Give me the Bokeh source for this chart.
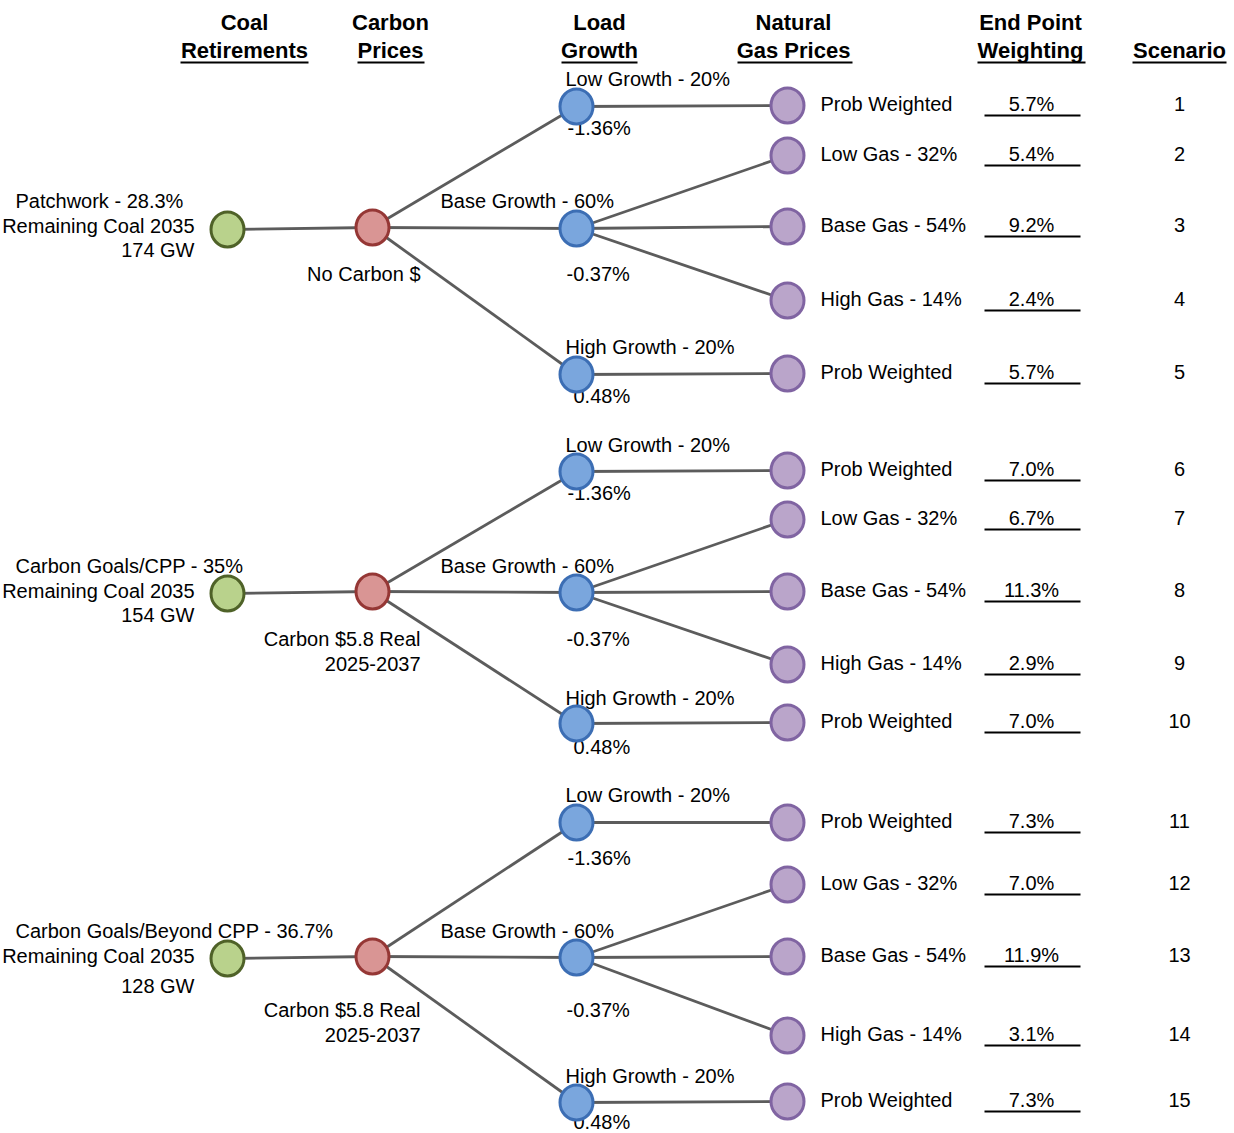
from bokeh.plotting import figure
from bokeh.models import Range1d, ColumnDataSource
from bokeh.core.properties import value
from bokeh.embed import file_html
from bokeh.resources import INLINE

# ---------------- data ----------------
headers_top = ["Coal", "Carbon", "Load", "Natural", "End Point", ""]
headers_bottom = ["Retirements", "Prices", "Growth", "Gas Prices", "Weighting", "Scenario"]

coal_names = ["Patchwork - 28.3%", "Carbon Goals/CPP - 35%", "Carbon Goals/Beyond CPP - 36.7%"]
coal_remaining = ["Remaining Coal 2035", "Remaining Coal 2035", "Remaining Coal 2035"]
coal_gw = ["174 GW", "154 GW", "128 GW"]
carbon_line1 = ["No Carbon $", "Carbon $5.8 Real", "Carbon $5.8 Real"]
carbon_line2 = ["", "2025-2037", "2025-2037"]
load_names = ["Low Growth - 20%", "Base Growth - 60%", "High Growth - 20%"]
load_rates = ["-1.36%", "-0.37%", "0.48%"]
gas_names = ["Prob Weighted", "Low Gas - 32%", "Base Gas - 54%", "High Gas - 14%", "Prob Weighted"]
weights = [5.7, 5.4, 9.2, 2.4, 5.7, 7.0, 6.7, 11.3, 2.9, 7.0, 7.3, 7.0, 11.9, 3.1, 7.3]
scenarios = ["1", "2", "3", "4", "5", "6", "7", "8", "9", "10", "11", "12", "13", "14", "15"]

# ---------------- layout ----------------
X_GREEN, X_RED, X_BLUE, X_PURPLE = 227, 372, 576, 787
X_GAS_TXT, X_WEIGHT, X_SCEN = 820, 1031, 1179
green_y = [229, 593, 958]
red_y = [227, 591, 956]
blue_y = [[106, 228, 374], [471, 592, 723], [822, 957, 1102]]
purple_y = [[105, 155, 226, 300, 373], [470, 519, 591, 664, 722], [822, 884, 956, 1035, 1101]]
blue_to_purple = [0, 1, 1, 1, 2]
coal_name_y = [200, 565, 930]
coal_rem_y = [225, 590, 955]
coal_gw_y = [249, 614, 985]
carbon_y1 = [273, 638, 1009]
carbon_y2 = [298, 663, 1034]
low_lbl_y = [78, 444, 794]
low_rate_y = [127, 492, 857]
base_lbl_y = [200, 565, 930]
base_rate_y = [273, 638, 1009]
high_lbl_y = [346, 697, 1075]
high_rate_y = [395, 746, 1121]
header_x = [244, 390, 599, 793, 1030, 1179]
header_ul = [(180, 308), (357, 424), (561, 637), (737, 852), (977, 1085), (1132, 1226)]

FONT = value("Liberation Sans")
LINE_C = "#5c5c5c"

p = figure(width=1234, height=1133, x_range=Range1d(0, 1234), y_range=Range1d(1133, 0),
           output_backend="svg", toolbar_location=None, min_border=0)
p.axis.visible = False
p.grid.visible = False
p.outline_line_color = None
p.background_fill_color = "white"
p.border_fill_color = "white"

# ---- connecting lines ----
x0s, y0s, x1s, y1s = [], [], [], []
for b in range(3):
    x0s.append(X_GREEN); y0s.append(green_y[b]); x1s.append(X_RED); y1s.append(red_y[b])
    for k in range(3):
        x0s.append(X_RED); y0s.append(red_y[b]); x1s.append(X_BLUE); y1s.append(blue_y[b][k])
    for j in range(5):
        x0s.append(X_BLUE); y0s.append(blue_y[b][blue_to_purple[j]])
        x1s.append(X_PURPLE); y1s.append(purple_y[b][j])
p.segment(x0s, y0s, x1s, y1s, line_color=LINE_C, line_width=2.8)

# ---- texts ----
def txt(xs, ys, texts, align="left", size="20px", style="normal", baseline="middle"):
    src = ColumnDataSource(dict(x=xs, y=ys, t=texts))
    p.text("x", "y", "t", source=src, text_font=FONT, text_font_size=size,
           text_align=align, text_baseline=baseline, text_color="black",
           text_font_style=style)

# headers
txt(header_x, [22] * 6, headers_top, align="center", size="22px", style="bold")
txt(header_x, [50] * 6, headers_bottom, align="center", size="22px", style="bold")
p.segment([a for a, b in header_ul], [62] * 6, [b for a, b in header_ul], [62] * 6,
          line_color="black", line_width=2)

# coal retirements
txt([15] * 3, coal_name_y, coal_names)
txt([194] * 3, coal_rem_y, coal_remaining, align="right")
txt([194] * 3, coal_gw_y, coal_gw, align="right")
# carbon
txt([420] * 3, carbon_y1, carbon_line1, align="right")
txt([420] * 3, carbon_y2, carbon_line2, align="right")
# load growth
txt([565] * 3, low_lbl_y, [load_names[0]] * 3)
txt([567] * 3, low_rate_y, [load_rates[0]] * 3)
txt([440] * 3, base_lbl_y, [load_names[1]] * 3)
txt([566] * 3, base_rate_y, [load_rates[1]] * 3)
txt([565] * 3, high_lbl_y, [load_names[2]] * 3)
txt([573] * 3, high_rate_y, [load_rates[2]] * 3)

# gas, weighting, scenario
all_py = [y for blk in purple_y for y in blk]
txt([X_GAS_TXT] * 15, [y - 2 for y in all_py], gas_names * 3)
txt([X_WEIGHT] * 15, [y - 2 for y in all_py], ["%.1f%%" % w for w in weights], align="center")
p.segment([984] * 15, [y + 10 for y in all_py], [1080] * 15, [y + 10 for y in all_py],
          line_color="black", line_width=2)
txt([X_SCEN] * 15, [y - 2 for y in all_py], scenarios, align="center")

# ---- nodes ----
def nodes(xs, ys, fill, edge):
    p.ellipse(xs, ys, width=33, height=35, fill_color=fill, line_color=edge, line_width=3)

nodes([X_GREEN] * 3, green_y, "#B9D28C", "#4F6228")
nodes([X_RED] * 3, red_y, "#D99594", "#953735")
nodes([X_BLUE] * 9, [y for blk in blue_y for y in blk], "#7AA6DD", "#3C6EB4")
nodes([X_PURPLE] * 15, all_py, "#BAA5CA", "#8064A2")

open("out.html", "w").write(file_html(p, INLINE))
